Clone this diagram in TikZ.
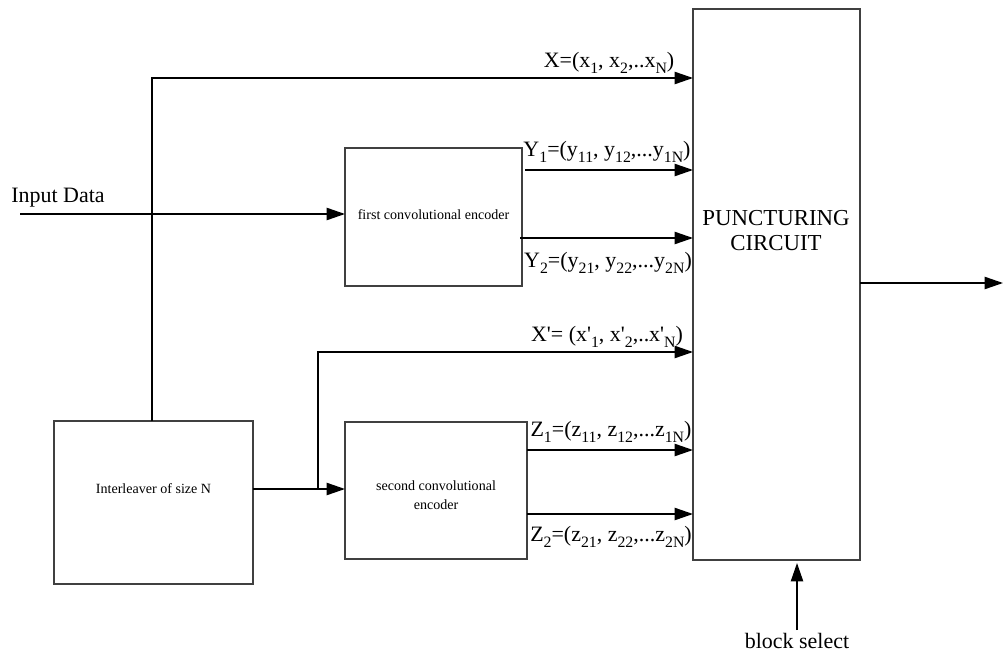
\documentclass[tikz,border=0pt]{standalone}
\usepackage{fontspec}
\setmainfont{Liberation Serif}[Ligatures=TeXOff]
\usetikzlibrary{arrows.meta}
\newcommand\lsub[1]{\raisebox{-0.55ex}{\fontsize{9}{9}\selectfont #1}}
\begin{document}
\begin{tikzpicture}[x=0.02cm,y=-0.02cm,
  blk/.style={draw=black!75,line width=0.6pt,inner sep=0pt},
  sig/.style={line width=0.9pt,-{Triangle[length=10.5pt,width=7pt]}},
  lbl/.style={font=\fontsize{12.5}{14}\selectfont,inner sep=1pt},
  small/.style={font=\fontsize{8}{11}\selectfont,align=center}]
\useasboundingbox (0,0) rectangle (1003,662);
% boxes
\draw[blk] (693,9) rectangle (860,560);
\node[font=\fontsize{13}{14.2}\selectfont,align=center] (punct) at (776,231) {PUNCTURING\\CIRCUIT};
\draw[blk] (345,148) rectangle (522,286);
\node[small] (enc1) at (433.5,215) {first convolutional encoder};
\draw[blk] (54,421) rectangle (253,584);
\node[small] (inter) at (153.5,489) {Interleaver of size N};
\draw[blk] (345,422) rectangle (527,559);
\node[small] (enc2) at (436,495) {second convolutional\\encoder};
% helper coordinates
\coordinate (enc1W) at (345,214);
\coordinate (interN) at (152,421);
\coordinate (interE) at (253,489);
\coordinate (enc2W) at (345,489);
\coordinate (pE) at (860,283);
\coordinate (inStart) at (20,214);
\coordinate (xTurn) at (152,78);
\coordinate (xEnd) at (693,78);
\coordinate (y1s) at (525,170);
\coordinate (y1e) at (693,170);
\coordinate (y2s) at (520,238);
\coordinate (y2e) at (693,238);
\coordinate (j) at (318,489);
\coordinate (xpTurn) at (318,352);
\coordinate (xpEnd) at (693,352);
\coordinate (z1s) at (527,450);
\coordinate (z1e) at (693,450);
\coordinate (z2s) at (527,514);
\coordinate (z2e) at (693,514);
\coordinate (outEnd) at (1003,283);
\coordinate (bsTop) at (797,563);
\coordinate (bsBot) at (797,630);
% connectors
\draw[sig] (inStart) -- (enc1W);
\draw[sig] (interN) -- (xTurn) -- (xEnd);
\draw[sig] (y1s) -- (y1e);
\draw[sig] (y2s) -- (y2e);
\draw[sig] (interE) -- (enc2W);
\draw[sig] (j) -- (xpTurn) -- (xpEnd);
\draw[sig] (z1s) -- (z1e);
\draw[sig] (z2s) -- (z2e);
\draw[sig] (pE) -- (outEnd);
\draw[sig] (bsBot) -- (bsTop);
% labels
\node[lbl] (tin) at (58,198) {Input Data};
\node[lbl] (tx) at (609,63) {X=(x\lsub{1}, x\lsub{2},..x\lsub{N})};
\node[lbl] (ty1) at (607,152) {Y\lsub{1}=(y\lsub{11}, y\lsub{12},...y\lsub{1N})};
\node[lbl] (ty2) at (608,263) {Y\lsub{2}=(y\lsub{21}, y\lsub{22},...y\lsub{2N})};
\node[lbl] (txp) at (607,337) {X'= (x'\lsub{1}, x'\lsub{2},..x'\lsub{N})};
\node[lbl] (tz1) at (611,432) {Z\lsub{1}=(z\lsub{11}, z\lsub{12},...z\lsub{1N})};
\node[lbl] (tz2) at (611,537) {Z\lsub{2}=(z\lsub{21}, z\lsub{22},...z\lsub{2N})};
\node[lbl] (tbs) at (797,641) {block select};
\end{tikzpicture}
\end{document}
